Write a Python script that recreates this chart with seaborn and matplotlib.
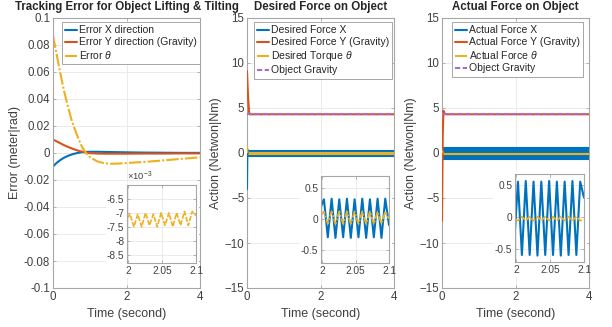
import matplotlib
matplotlib.use("Agg")
import matplotlib.pyplot as plt
from matplotlib.patches import Rectangle
from matplotlib.ticker import FuncFormatter
import seaborn as sns

# MATLAB default line colours
BLUE = '#0072BD'
RED = '#D95319'
YEL = '#EDB120'
PUR = '#A86CC8'

# ---------------- data ----------------
# panel 1: tracking error
t_err = [0, 0.1, 0.2, 0.3, 0.4, 0.5, 0.6, 0.7, 0.8, 0.9, 1.0, 1.2, 1.4, 1.6, 1.8, 2.0, 2.5, 3.0, 3.5, 4.0]
err_x = [-0.0100, -0.0073, -0.0052, -0.0035, -0.0022, -0.0012, -0.0004, 0.0002, 0.0006, 0.0008,
         0.0009, 0.0009, 0.0008, 0.0007, 0.0006, 0.0005, 0.0003, 0.0002, 0.0001, 0.0001]
err_y = [0.0100, 0.0086, 0.0072, 0.0058, 0.0046, 0.0035, 0.0025, 0.0016, 0.0009, 0.0003,
         -0.0001, -0.0004, -0.0005, -0.0005, -0.0005, -0.0005, -0.0004, -0.0004, -0.0003, -0.0003]
err_th = [0.087, 0.073, 0.059, 0.046, 0.035, 0.025, 0.017, 0.010, 0.004, 0.000,
          -0.003, -0.0062, -0.0076, -0.0080, -0.0078, -0.0074, -0.0066, -0.0055, -0.0043, -0.0032]

# zoomed window 2.0 .. 2.1 s (start, then peak / trough samples, end)
t_zoom = [1.998, 2.0024, 2.0082, 2.0139, 2.0197, 2.0254, 2.0312, 2.0369, 2.0427, 2.0484,
          2.0542, 2.0599, 2.0657, 2.0714, 2.0772, 2.0829, 2.0887, 2.0944, 2.1000]
zoom_err_th = [-0.00720, -0.00705, -0.00750, -0.00705, -0.00750, -0.00700, -0.00745, -0.00705,
               -0.00750, -0.00700, -0.00745, -0.00700, -0.00750, -0.00700, -0.00745, -0.00695,
               -0.00745, -0.00695, -0.00710]

# panel 2: desired force
t_des_y = [0, 0.02, 0.036, 0.055, 0.07, 4.0]
des_y = [9.1, 7.0, 5.8, 4.6, 4.3, 4.3]
t_des_x = [0, 0.01, 0.03]
des_x = [-4.0, 0.4, 0.05]
des_th = [0.8, 0.15, 0.02]
t_band = [0.03, 4.0]
des_x_lo = [-0.32, -0.32]
des_x_hi = [0.36, 0.36]
des_th_lo = [-0.09, -0.09]
des_th_hi = [0.12, 0.12]
t_grav = [0, 4.0]
gravity = [4.3, 4.3]
zoom_des_x = [0.20, 0.32, -0.30, 0.33, -0.31, 0.32, -0.30, 0.33, -0.31, 0.32,
              -0.30, 0.33, -0.31, 0.32, -0.30, 0.33, -0.31, 0.33, -0.10]
zoom_des_th = [0.06, 0.12, -0.08, 0.12, -0.08, 0.12, -0.08, 0.12, -0.08, 0.12,
               -0.08, 0.12, -0.08, 0.12, -0.08, 0.12, -0.08, 0.12, 0.00]

# panel 3: actual force
t_act_y = [0, 0.02, 0.04, 0.07, 0.1, 4.0]
act_y = [-7.5, 2.0, 4.7, 4.4, 4.3, 4.3]
act_x = [0.3, 0.6, 0.1]
act_th = [0.3, 0.1, 0.0]
act_x_lo = [-0.64, -0.64]
act_x_hi = [0.62, 0.62]
act_th_lo = [-0.06, -0.06]
act_th_hi = [0.01, 0.01]
zoom_act_x = [-0.20, 0.55, -0.60, 0.56, -0.60, 0.55, -0.61, 0.55, -0.60, 0.56,
              -0.60, 0.55, -0.61, 0.55, -0.60, 0.56, -0.60, 0.55, 0.30]
zoom_act_th = [-0.05, -0.06, 0.00, -0.06, 0.00, -0.06, 0.00, -0.06, 0.00, -0.06,
               0.00, -0.06, 0.00, -0.06, 0.00, -0.06, 0.00, -0.06, -0.05]

# ---------------- style ----------------
sns.set_theme(style="whitegrid")
plt.rcParams['font.family'] = ['Liberation Sans', 'DejaVu Sans']
plt.rcParams['mathtext.fontset'] = 'custom'
plt.rcParams['mathtext.it'] = 'Liberation Sans:italic'
plt.rcParams['mathtext.rm'] = 'Liberation Sans'

SPINE = '#a6a6a6'
TXT = '#404040'
GRID = '#e8e8e8'
DASHDOT = (0, (6, 1, 1, 1))
DASH = (0, (2.5, 1.2))


def style_axes(ax, fs=8.3):
    for s in ax.spines.values():
        s.set_color(SPINE)
        s.set_linewidth(0.8)
        s.set_visible(True)
    ax.grid(True, color=GRID, linewidth=0.6)
    ax.tick_params(direction='in', length=2.5, width=0.6, color=SPINE,
                   labelcolor=TXT, labelsize=fs, pad=2,
                   top=True, right=True, bottom=True, left=True)
    ax.set_facecolor('white')


fig = plt.figure(figsize=(6.12, 3.27), dpi=100)
W, H = 612.0, 327.0


def px_axes(x0, y0, x1, y1, **kw):
    return fig.add_axes([x0 / W, (H - y1) / H, (x1 - x0) / W, (y1 - y0) / H], **kw)


def white_back(x0, y0, x1, y1):
    fig.add_artist(Rectangle((x0 / W, (H - y1) / H), (x1 - x0) / W, (y1 - y0) / H,
                             transform=fig.transFigure, facecolor='white',
                             edgecolor='none', zorder=0.5))


mains = [px_axes(53, 18, 200, 288), px_axes(247, 18, 394, 288), px_axes(442, 18, 589, 288)]
insets_px = [(127, 185, 196, 263), (321, 176, 389, 263), (515, 174, 584, 262)]
insets = []
for (x0, y0, x1, y1) in insets_px:
    white_back(x0 - 21, y0 - 2, x1 + 3, y1 + 15)
    insets.append(px_axes(x0, y0, x1, y1, zorder=1))

LW = 1.5
TFS = 8.3
TPAD = 5.5

# ---- panel 1 ----
ax = mains[0]
sns.lineplot(x=t_err, y=err_x, ax=ax, color=BLUE, lw=LW, label='Error X direction')
sns.lineplot(x=t_err, y=err_y, ax=ax, color=RED, lw=LW, label='Error Y direction (Gravity)')
sns.lineplot(x=t_err, y=err_th, ax=ax, color=YEL, lw=LW, linestyle=DASHDOT, label=r'Error $\theta$')
ax.set_xlim(0, 4)
ax.set_ylim(-0.1, 0.1)
ax.set_xticks([0, 2, 4])
ax.set_yticks([-0.1, -0.08, -0.06, -0.04, -0.02, 0, 0.02, 0.04, 0.06, 0.08, 0.1])
ax.set_yticklabels(['-0.1', '-0.08', '-0.06', '-0.04', '-0.02', '0', '0.02', '0.04', '0.06', '0.08', '0.1'])
ax.set_ylabel('Error (meter|rad)', fontsize=9, color=TXT, labelpad=2)
ax.set_title('Tracking Error for Object Lifting & Tilting', fontsize=TFS,
             fontweight='bold', pad=TPAD)

# ---- panel 2 ----
ax = mains[1]
sns.lineplot(x=t_des_x, y=des_x, ax=ax, color=BLUE, lw=LW, label='Desired Force X', zorder=3)
ax.fill_between(t_band, des_x_lo, des_x_hi, color=BLUE, lw=0.8, edgecolor=BLUE)
sns.lineplot(x=t_des_y, y=des_y, ax=ax, color=RED, lw=LW, label='Desired Force Y (Gravity)', zorder=3)
sns.lineplot(x=t_des_x, y=des_th, ax=ax, color=YEL, lw=LW, linestyle=DASHDOT,
             label=r'Desired Torque $\theta$', zorder=3)
ax.fill_between(t_band, des_th_lo, des_th_hi, color=YEL, lw=0.8, edgecolor=YEL)
sns.lineplot(x=t_grav, y=gravity, ax=ax, color=PUR, lw=LW, linestyle=DASH, label='Object Gravity', zorder=3)
ax.set_title('Desired Force on Object', fontsize=TFS, fontweight='bold', pad=TPAD)

# ---- panel 3 ----
ax = mains[2]
sns.lineplot(x=t_des_x, y=act_x, ax=ax, color=BLUE, lw=LW, label='Actual Force X', zorder=3)
ax.fill_between(t_band, act_x_lo, act_x_hi, color=BLUE, lw=0.8, edgecolor=BLUE)
sns.lineplot(x=t_act_y, y=act_y, ax=ax, color=RED, lw=LW, label='Actual Force Y (Gravity)', zorder=3)
sns.lineplot(x=t_des_x, y=act_th, ax=ax, color=YEL, lw=LW, linestyle=DASHDOT,
             label=r'Actual Force $\theta$', zorder=3)
ax.fill_between(t_band, act_th_lo, act_th_hi, color=YEL, lw=0.8, edgecolor=YEL)
sns.lineplot(x=t_grav, y=gravity, ax=ax, color=PUR, lw=LW, linestyle=DASH, label='Object Gravity', zorder=3)
ax.set_title('Actual Force on Object', fontsize=TFS, fontweight='bold', pad=TPAD)

for ax in mains[1:]:
    ax.set_xlim(0, 4)
    ax.set_ylim(-15, 15)
    ax.set_xticks([0, 2, 4])
    ax.set_yticks([-15, -10, -5, 0, 5, 10, 15])
    ax.set_ylabel('Action (Netwon|Nm)', fontsize=9, color=TXT, labelpad=2)

legend_x = [0.061, 0.048, 0.068]
for ax, lx in zip(mains, legend_x):
    style_axes(ax)
    ax.set_xlabel('Time (second)', fontsize=9, color=TXT, labelpad=4)
    ax.set_xticklabels(['0', '2', '4'])
    leg = ax.legend(loc='upper left', bbox_to_anchor=(lx, 0.985), fontsize=7.5,
                    frameon=True, fancybox=False, handlelength=1.1, handletextpad=0.2,
                    borderpad=0.3, labelspacing=0.2, borderaxespad=0)
    leg.get_frame().set_edgecolor(SPINE)
    leg.get_frame().set_linewidth(0.7)
    leg.get_frame().set_alpha(1)

# ---- insets ----
ax = insets[0]
sns.lineplot(x=t_zoom, y=zoom_err_th, ax=ax, color=YEL, lw=1.2, linestyle=(0, (3, 1)))
ax.set_ylim(-0.0088, -0.0060)
ax.set_yticks([-0.0085, -0.008, -0.0075, -0.007, -0.0065])
ax.yaxis.set_major_formatter(FuncFormatter(lambda v, p: f'{v * 1e3:g}'))
ax.text(0.0, 1.02, r'$\times 10^{-3}$', transform=ax.transAxes, fontsize=6.8,
        color=TXT, ha='left', va='bottom')

ax = insets[1]
sns.lineplot(x=t_zoom, y=zoom_des_x, ax=ax, color=BLUE, lw=1.5)
sns.lineplot(x=t_zoom, y=zoom_des_th, ax=ax, color=YEL, lw=1.3, linestyle=(0, (4, 1, 1, 1)))
ax.set_ylim(-0.72, 0.7)
ax.set_yticks([-0.5, 0, 0.5])

ax = insets[2]
sns.lineplot(x=t_zoom, y=zoom_act_x, ax=ax, color=BLUE, lw=1.5)
sns.lineplot(x=t_zoom, y=zoom_act_th, ax=ax, color=YEL, lw=1.3, linestyle=(0, (3, 1)))
ax.set_ylim(-0.71, 0.67)
ax.set_yticks([-0.5, 0, 0.5])

for ax in insets:
    style_axes(ax, fs=7.3)
    for ln in ax.get_lines():
        ln.set_solid_joinstyle('round')
    ax.set_xlim(1.998, 2.1)
    ax.set_xticks([2, 2.05, 2.1])
    ax.set_xticklabels(['2', '2.05', '2.1'])
    ax.set_xlabel('')
    ax.set_ylabel('')
    if ax.get_legend():
        ax.get_legend().remove()
insets[1].set_yticklabels(['-0.5', '0', '0.5'])
insets[2].set_yticklabels(['-0.5', '0', '0.5'])

fig.savefig('out.png', dpi=100)
